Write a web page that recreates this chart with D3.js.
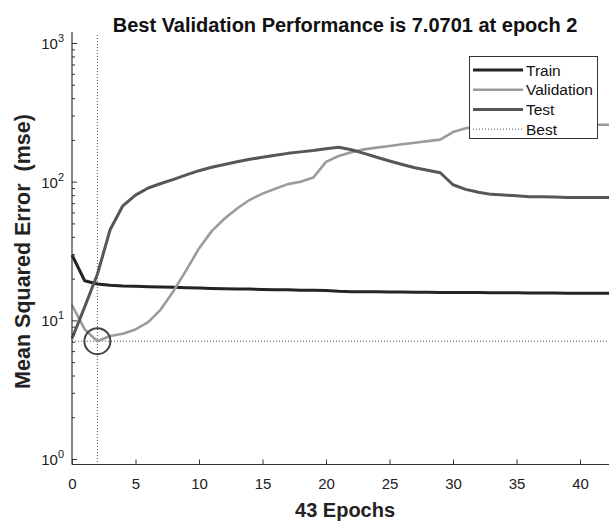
<!DOCTYPE html>
<html>
<head>
<meta charset="utf-8">
<script src="https://cdn.jsdelivr.net/npm/d3@7"></script>
<style>
  html, body { margin: 0; padding: 0; background: #fff; }
  svg { display: block; font-family: "Liberation Sans", Arial, sans-serif; }
</style>
</head>
<body>
<svg id="chart" width="609" height="521"></svg>
<script>
// Training record: mean squared error per epoch
const epochs = d3.range(0, 44);
const trainMSE = [29.6, 19.3, 18.3, 17.9, 17.7, 17.6, 17.5, 17.4, 17.3, 17.2,
  17.1, 17.0, 16.9, 16.85, 16.8, 16.7, 16.65, 16.6, 16.5, 16.45,
  16.4, 16.2, 16.1, 16.1, 16.05, 16.0, 16.0, 15.95, 15.95, 15.9,
  15.9, 15.85, 15.85, 15.8, 15.8, 15.8, 15.75, 15.75, 15.75, 15.7,
  15.7, 15.7, 15.7, 15.7];
const validationMSE = [12.9, 8.6, 7.0701, 7.7, 8.0, 8.6, 9.7, 12.0, 16.3, 23,
  33, 44, 54, 64, 74, 82, 89, 96, 100, 107,
  139, 153, 163, 171, 176, 181, 186, 191, 196, 201,
  228, 243, 249, 252, 254, 255, 256, 256, 257, 257,
  257, 257, 257, 257];
const testMSE = [7.4, 12.5, 21.5, 45, 67, 80, 90, 97, 104, 112,
  120, 127, 133, 139, 145, 150, 155, 160, 164, 168,
  173, 177, 170, 160, 150, 141, 133, 126, 121, 116,
  95, 88, 84, 81, 80, 79, 78, 78, 77.5, 77,
  77, 77, 77, 77];
const bestEpoch = 2;
const bestPerf = 7.0701;
const xTicks = [0, 5, 10, 15, 20, 25, 30, 35, 40];
const yDecades = [0, 1, 2, 3];
const legendLabels = ["Train", "Validation", "Test", "Best"];

const W = 609, H = 521;
const plotLeft = 72, plotTop = 32, plotBottom = 464.5;
const svg = d3.select("#chart");

const x = d3.scaleLinear().domain([0, 43]).range([plotLeft, plotLeft + 43 * 12.7]);
const y = d3.scaleLog().domain([1, 1000]).range([459, 43]);

const axisColor = "#333";

// Best-epoch reference lines (dotted)
svg.append("line")
  .attr("x1", x(bestEpoch)).attr("x2", x(bestEpoch))
  .attr("y1", plotTop + 3).attr("y2", plotBottom)
  .attr("stroke", "#555").attr("stroke-width", 1).attr("stroke-dasharray", "1,2");
svg.append("line")
  .attr("x1", plotLeft).attr("x2", W)
  .attr("y1", y(bestPerf)).attr("y2", y(bestPerf))
  .attr("stroke", "#555").attr("stroke-width", 1).attr("stroke-dasharray", "1,2");

// Curves
const series = [
  { name: "Train", values: trainMSE, color: "#232323", width: 3 },
  { name: "Validation", values: validationMSE, color: "#9b9b9b", width: 2.6 },
  { name: "Test", values: testMSE, color: "#575757", width: 3 }
];
const line = d3.line().x((d, i) => x(epochs[i])).y(d => y(d));
series.forEach(s => {
  svg.append("path")
    .datum(s.values)
    .attr("d", line)
    .attr("fill", "none")
    .attr("stroke", s.color)
    .attr("stroke-width", s.width)
    .attr("stroke-linejoin", "round");
});

// Best-performance marker
svg.append("circle")
  .attr("cx", x(bestEpoch)).attr("cy", y(bestPerf)).attr("r", 13)
  .attr("fill", "none").attr("stroke", "#444").attr("stroke-width", 2);

// Axes
const xAxis = d3.axisBottom(x).tickValues(xTicks).tickSize(-5).tickSizeOuter(0).tickPadding(14);
const gx = svg.append("g").attr("transform", `translate(0,${plotBottom})`).call(xAxis);
gx.select(".domain").remove();
gx.selectAll("line").attr("stroke", axisColor);
gx.selectAll("text").attr("font-size", 15).attr("fill", "#222");

const majorY = yDecades.map(e => Math.pow(10, e));
const minorY = [];
for (let e = 0; e < 3; e++) for (let m = 2; m <= 9; m++) minorY.push(m * Math.pow(10, e));

const gy = svg.append("g").attr("transform", `translate(${plotLeft},0)`)
  .call(d3.axisLeft(y).tickValues(majorY).tickSize(-5).tickSizeOuter(0).tickFormat(""));
gy.select(".domain").remove();
gy.selectAll("line").attr("stroke", axisColor);
const gyMinor = svg.append("g").attr("transform", `translate(${plotLeft},0)`)
  .call(d3.axisLeft(y).tickValues(minorY).tickSize(-3).tickSizeOuter(0).tickFormat(""));
gyMinor.select(".domain").remove();
gyMinor.selectAll("line").attr("stroke", axisColor);

// Decade labels with superscript exponent
const yLab = svg.append("g").attr("fill", "#222");
yDecades.forEach(e => {
  const t = yLab.append("text")
    .attr("x", plotLeft - 8).attr("y", y(Math.pow(10, e)) + 6)
    .attr("text-anchor", "end").attr("font-size", 15);
  t.append("tspan").text("10");
  t.append("tspan").attr("font-size", 11).attr("dy", -7).text(String(e));
});

// Axis lines
svg.append("line").attr("x1", plotLeft).attr("x2", plotLeft)
  .attr("y1", plotTop).attr("y2", plotBottom).attr("stroke", axisColor).attr("stroke-width", 1.2);
svg.append("line").attr("x1", plotLeft).attr("x2", W)
  .attr("y1", plotBottom).attr("y2", plotBottom).attr("stroke", axisColor).attr("stroke-width", 1.2);

// Titles
svg.append("text")
  .attr("x", (plotLeft + x(43)) / 2).attr("y", 32)
  .attr("text-anchor", "middle").attr("font-size", 20).attr("font-weight", "bold").attr("fill", "#111")
  .text(`Best Validation Performance is ${bestPerf} at epoch ${bestEpoch}`);
svg.append("text")
  .attr("x", (plotLeft + x(43)) / 2).attr("y", 517)
  .attr("text-anchor", "middle").attr("font-size", 20).attr("font-weight", "bold").attr("fill", "#222")
  .text("43 Epochs");
svg.append("text")
  .attr("transform", "translate(30,251.5) rotate(-90)")
  .attr("text-anchor", "middle").attr("font-size", 21.5).attr("font-weight", "bold").attr("fill", "#222")
  .attr("xml:space", "preserve")
  .text("Mean Squared Error  (mse)");

// Legend
const lg = svg.append("g");
lg.append("rect").attr("x", 469.5).attr("y", 56.5).attr("width", 128).attr("height", 82)
  .attr("fill", "#fff").attr("stroke", "#333").attr("stroke-width", 1);
const legendStyles = [
  { color: "#232323", width: 3, dash: null },
  { color: "#9b9b9b", width: 2.6, dash: null },
  { color: "#575757", width: 3, dash: null },
  { color: "#555", width: 1, dash: "1,2" }
];
legendLabels.forEach((name, i) => {
  const ly = 70 + i * 19.7;
  const st = legendStyles[i];
  lg.append("line").attr("x1", 473).attr("x2", 523).attr("y1", ly).attr("y2", ly)
    .attr("stroke", st.color).attr("stroke-width", st.width)
    .attr("stroke-dasharray", st.dash);
  lg.append("text").attr("x", 526).attr("y", ly + 5.5).attr("font-size", 15.5).attr("fill", "#111").text(name);
});
</script>
</body>
</html>
